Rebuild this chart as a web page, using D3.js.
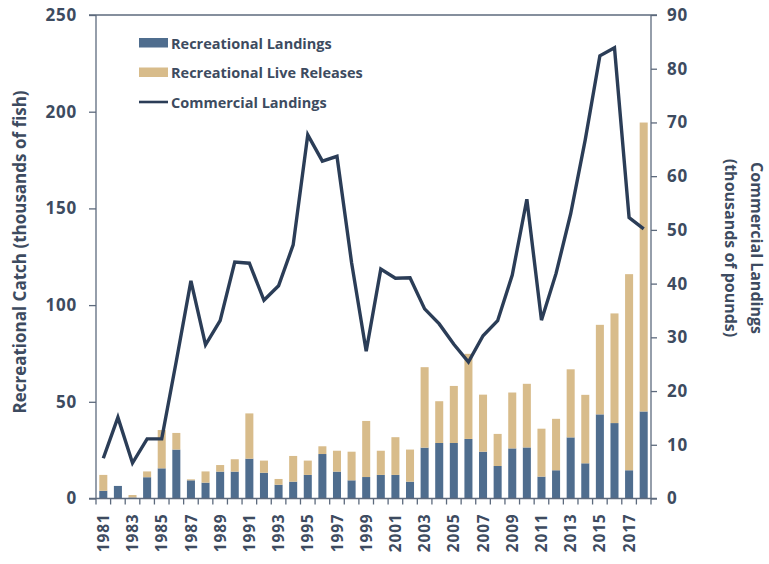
<!DOCTYPE html>
<html>
<head>
<meta charset="utf-8">
<script src="https://cdn.jsdelivr.net/npm/d3@7"></script>
<style>
  body { margin: 0; background: #fff; }
  text { font-family: "Open Sans", "Noto Sans", sans-serif; font-weight: bold; fill: #3d4b60; }
</style>
</head>
<body>
<div id="chart"></div>
<script>
// ---- data (thousands of fish / thousands of pounds) ----
const years = d3.range(1981, 2019);
const recLandings = [4, 6.5, 0.5, 11, 15.6, 25.3, 9.4, 8.2, 13.9, 13.9,
  20.6, 13.3, 7.1, 8.7, 12.2, 23, 13.9, 9.4, 11.1, 12.2,
  12.2, 8.7, 26.3, 28.7, 28.7, 30.8, 24.2, 16.8, 25.9, 26.4,
  11.3, 14.6, 31.6, 18.2, 43.5, 39, 14.6, 45];
const recTotal = [12.2, 6.5, 1.8, 14, 35.4, 33.9, 9.9, 14, 17.3, 20.3,
  44, 19.6, 10.1, 22, 19.6, 27, 24.7, 24.2, 40.1, 24.7,
  31.7, 25.3, 67.9, 50.3, 58.2, 74.8, 53.7, 33.4, 54.8, 59.3,
  36.1, 41.2, 66.8, 53.6, 89.8, 95.7, 116, 194.4];
const liveReleases = recTotal.map((t, i) => Math.max(0, t - recLandings[i]));
const commercial = [7.5, 15.1, 6.6, 11.1, 11.1, 25.6, 40.5, 28.6, 33.1, 44.0,
  43.8, 36.9, 39.6, 47.2, 67.7, 62.8, 63.7, 43.9, 27.4, 42.7,
  41.0, 41.1, 35.3, 32.5, 28.7, 25.4, 30.3, 33.1, 41.6, 55.7,
  33.2, 41.9, 53.0, 66.8, 82.4, 83.9, 52.3, 50.2];
const leftTicks = [0, 50, 100, 150, 200, 250];
const rightTicks = [0, 10, 20, 30, 40, 50, 60, 70, 80, 90];

const colBlue = "#4f6d8e", colTan = "#d8bc8b", colLine = "#2b3d57", colAxis = "#5d6a7d";

const W = 769, H = 564;
const plot = { left: 96, right: 651, top: 15, bottom: 498.5 };

const svg = d3.select("#chart").append("svg")
  .attr("width", W).attr("height", H);

const x = d3.scaleBand().domain(years)
  .range([plot.left, plot.right])
  .paddingInner(0.45).paddingOuter(0.225);
const yL = d3.scaleLinear().domain([0, 250]).range([plot.bottom, plot.top]);
const yR = d3.scaleLinear().domain([0, 90]).range([plot.bottom, plot.top]);
const step = x.step();
const off = step * 0.225;

// stacked bars
const stackData = years.map((yr, i) => ({ year: yr, landings: recLandings[i], releases: liveReleases[i] }));
const series = d3.stack().keys(["landings", "releases"])(stackData);
const colors = { landings: colBlue, releases: colTan };

series.forEach(s => {
  svg.append("g").selectAll("rect").data(s).join("rect")
    .attr("x", d => x(d.data.year))
    .attr("width", x.bandwidth())
    .attr("y", d => yL(d[1]))
    .attr("height", d => yL(d[0]) - yL(d[1]))
    .attr("fill", colors[s.key]);
});

// commercial line
const line = d3.line()
  .x((d, i) => x(years[i]) + x.bandwidth() / 2)
  .y(d => yR(d));
svg.append("path").datum(commercial)
  .attr("fill", "none")
  .attr("stroke", colLine)
  .attr("stroke-width", 3.4)
  .attr("stroke-linejoin", "miter")
  .attr("d", line);

// left axis
const gL = svg.append("g").attr("transform", `translate(${plot.left},0)`)
  .call(d3.axisLeft(yL).tickValues(leftTicks).tickSize(7).tickPadding(12));
// right axis
const gR = svg.append("g").attr("transform", `translate(${plot.right},0)`)
  .call(d3.axisRight(yR).tickValues(rightTicks).tickSize(6).tickPadding(10));
[gL, gR].forEach(g => {
  g.selectAll("path, line").attr("stroke", colAxis).attr("stroke-width", 1.3);
  g.select(".domain").attr("d", `M0,${plot.bottom}V${plot.top}`);
  g.selectAll("text").style("font-size", "17px").attr("fill", "#3d4b60")
    .style("font-family", "'Open Sans', sans-serif").style("letter-spacing", "0.8px");
});

// top border
svg.append("line")
  .attr("x1", plot.left - 7).attr("x2", plot.right + 6)
  .attr("y1", plot.top).attr("y2", plot.top)
  .attr("stroke", colAxis).attr("stroke-width", 1.3);

// bottom axis: baseline, ticks at band boundaries, labels every other year
const gB = svg.append("g");
gB.append("line")
  .attr("x1", plot.left - 7).attr("x2", plot.right + 6)
  .attr("y1", plot.bottom).attr("y2", plot.bottom)
  .attr("stroke", colAxis).attr("stroke-width", 1.3);
const tickPos = years.map(d => x(d) - off).concat([x(years[years.length - 1]) - off + step]);
gB.selectAll("line.tick").data(tickPos).join("line")
  .attr("class", "tick")
  .attr("x1", d => d).attr("x2", d => d)
  .attr("y1", plot.bottom).attr("y2", plot.bottom + 6)
  .attr("stroke", colAxis).attr("stroke-width", 1.3);
gB.selectAll("text").data(years.filter(d => d % 2 === 1)).join("text")
  .attr("transform", d => `translate(${x(d) + x.bandwidth() / 2},${plot.bottom + 15}) rotate(-90)`)
  .attr("text-anchor", "end")
  .attr("dy", "0.36em")
  .style("font-size", "15.5px")
  .style("letter-spacing", "0.8px")
  .text(d => d);

// axis titles
svg.append("text")
  .attr("transform", `translate(20,252) rotate(-90)`)
  .attr("text-anchor", "middle").attr("dy", "0.35em")
  .style("font-size", "17px")
  .text("Recreational Catch (thousands of fish)");
svg.append("text")
  .attr("transform", `translate(757,248) rotate(90)`)
  .attr("text-anchor", "middle").attr("dy", "0.35em")
  .style("font-size", "16px")
  .text("Commercial Landings");
svg.append("text")
  .attr("transform", `translate(731,248) rotate(90)`)
  .attr("text-anchor", "middle").attr("dy", "0.35em")
  .style("font-size", "16px")
  .text("(thousands of pounds)");

// legend
const legendItems = [
  { name: "Recreational Landings", type: "rect", color: colBlue },
  { name: "Recreational Live Releases", type: "rect", color: colTan },
  { name: "Commercial Landings", type: "line", color: colLine }
];
const legend = svg.append("g").attr("transform", "translate(139,38)");
legendItems.forEach((item, i) => {
  const row = legend.append("g").attr("transform", `translate(0,${i * 29.5})`);
  if (item.type === "rect") {
    row.append("rect").attr("width", 29).attr("height", 9.5).attr("fill", item.color);
  } else {
    row.append("line").attr("x1", 0).attr("x2", 29).attr("y1", 5).attr("y2", 5)
      .attr("stroke", item.color).attr("stroke-width", 2.6);
  }
  row.append("text").attr("x", 32).attr("y", 10.5)
    .style("font-size", "14.5px")
    .text(item.name);
});
</script>
</body>
</html>
